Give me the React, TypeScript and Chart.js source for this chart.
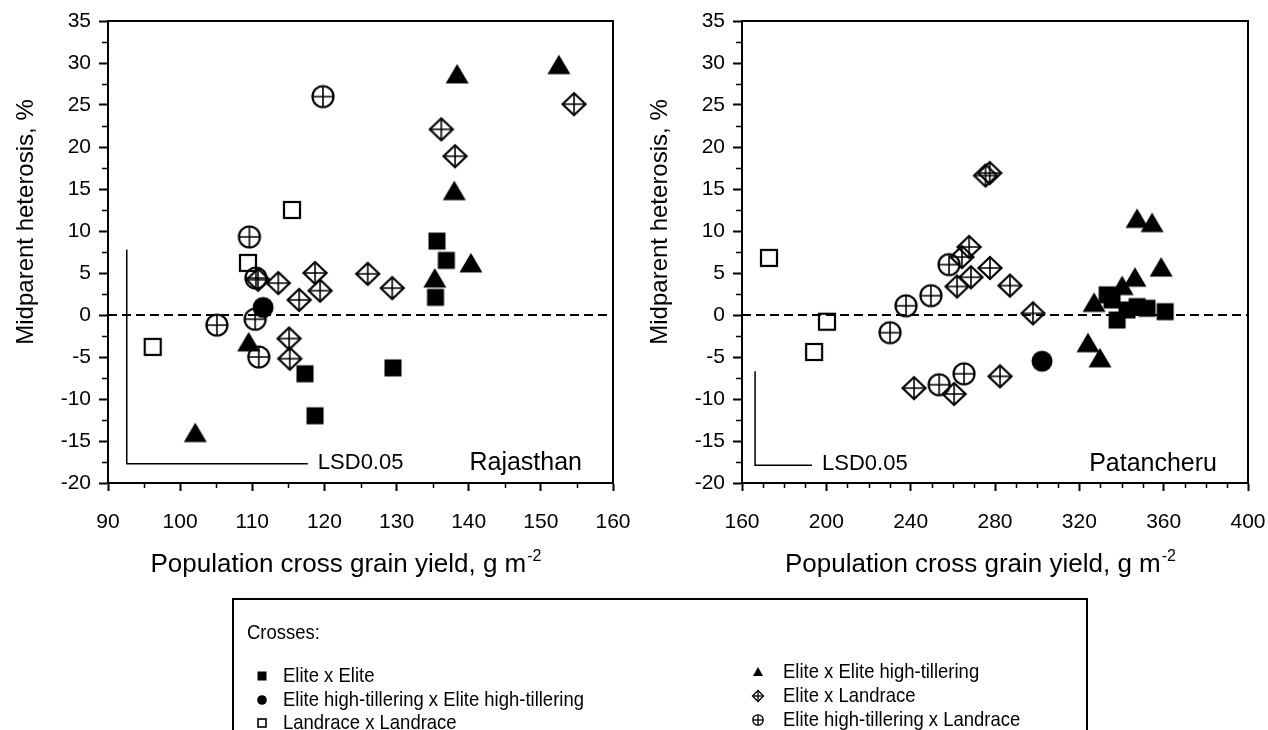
import React, { useEffect, useRef } from "react";
import { Chart, registerables } from "chart.js";

Chart.register(...registerables);

type Pt = [number, number];

// ---------------- Rajasthan (x: population cross grain yield, y: midparent heterosis %) ----------------
const rajEliteXElite: Pt[] = [[135.6, 8.8], [136.9, 6.5], [135.4, 2.1], [129.5, -6.3], [117.3, -7.0], [118.7, -12.0]];
const rajEliteXEliteHT: Pt[] = [[138.4, 28.7], [152.5, 29.8], [138.0, 14.8], [135.3, 4.4], [140.3, 6.2], [109.5, -3.2], [102.1, -14.0]];
const rajEliteHTxEliteHT: Pt[] = [[111.5, 0.9]];
const rajEliteXLandrace: Pt[] = [[154.6, 25.1], [136.2, 22.1], [138.1, 18.9], [126.0, 4.9], [129.4, 3.2], [113.6, 3.8], [118.7, 5.0], [119.4, 2.9], [116.5, 1.8], [110.8, 4.2], [115.1, -2.8], [115.2, -5.2]];
const rajLandraceXLandrace: Pt[] = [[115.5, 12.5], [109.4, 6.2], [96.2, -3.8]];
const rajEliteHTxLandrace: Pt[] = [[119.8, 26.0], [109.6, 9.3], [110.5, 4.4], [110.4, -0.5], [105.1, -1.2], [110.9, -5.0]];
const rajLsd: Pt[] = [[92.6, 7.8], [92.6, -17.7], [117.7, -17.7]];

// ---------------- Patancheru ----------------
const patEliteXElite: Pt[] = [[333.2, 2.4], [335.5, 1.8], [337.9, -0.6], [342.6, 0.6], [347.4, 1.0], [352.1, 0.8], [360.7, 0.4]];
const patEliteXEliteHT: Pt[] = [[347.4, 11.5], [354.5, 11.0], [358.8, 5.7], [346.4, 4.5], [340.3, 3.5], [327.0, 1.5], [324.1, -3.3], [329.8, -5.1]];
const patEliteHTxEliteHT: Pt[] = [[302.3, -5.5]];
const patEliteXLandrace: Pt[] = [[275.5, 16.6], [277.5, 16.9], [267.7, 8.1], [264.3, 6.9], [277.6, 5.6], [268.6, 4.5], [262.0, 3.4], [287.1, 3.5], [298.0, 0.2], [282.4, -7.3], [260.6, -9.4], [241.6, -8.7]];
const patLandraceXLandrace: Pt[] = [[172.8, 6.8], [200.3, -0.8], [194.2, -4.4]];
const patEliteHTxLandrace: Pt[] = [[230.2, -2.1], [237.8, 1.1], [249.6, 2.3], [258.2, 6.0], [265.3, -7.0], [253.5, -8.3]];
const patLsd: Pt[] = [[166.2, -6.7], [166.2, -17.9], [193.2, -17.9]];

// ---------------- Axes ----------------
const rajXTicks = [90, 100, 110, 120, 130, 140, 150, 160];
const patXTicks = [160, 200, 240, 280, 320, 360, 400];
const yTicks = [-20, -15, -10, -5, 0, 5, 10, 15, 20, 25, 30, 35];

const seriesKinds = ["fsq", "tri", "fci", "dia", "osq", "oci"];
const seriesLabels = [
  "Elite x Elite",
  "Elite x Elite high-tillering",
  "Elite high-tillering x Elite high-tillering",
  "Elite x Landrace",
  "Landrace x Landrace",
  "Elite high-tillering x Landrace",
];
const legendCol1 = [0, 2, 4];
const legendCol2 = [1, 3, 5];

const FONT = "'Liberation Sans', Arial, Helvetica, sans-serif";
const LEGEND_FONT = "'Liberation Sans', Arial, sans-serif";
const CW = 634;
const CH = 600;
const PLOT_TOP = 21;
const PLOT_BOTTOM = 483;
const PLOT_LEFT = 108;

interface Panel {
  name: string;
  site: string;
  xTicks: number[];
  xMinor: number;
  rightPad: number;
  series: Pt[][];
  lsd: Pt[];
}

const rajPanel: Panel = {
  name: "raj",
  site: "Rajasthan",
  xTicks: rajXTicks,
  xMinor: 5,
  rightPad: CW - 613,
  series: [rajEliteXElite, rajEliteXEliteHT, rajEliteHTxEliteHT, rajEliteXLandrace, rajLandraceXLandrace, rajEliteHTxLandrace],
  lsd: rajLsd,
};

const patPanel: Panel = {
  name: "pat",
  site: "Patancheru",
  xTicks: patXTicks,
  xMinor: 10,
  rightPad: CW - 614,
  series: [patEliteXElite, patEliteXEliteHT, patEliteHTxEliteHT, patEliteXLandrace, patLandraceXLandrace, patEliteHTxLandrace],
  lsd: patLsd,
};

function toXY(a: Pt[]) {
  return a.map(([x, y]) => ({ x, y }));
}

function makeMarker(kind: string): HTMLCanvasElement {
  const c = document.createElement("canvas");
  const S = 28;
  c.width = S;
  c.height = S;
  const ctx = c.getContext("2d")!;
  const m = S / 2;
  ctx.strokeStyle = "#000";
  ctx.fillStyle = "#000";
  ctx.lineWidth = 2.2;
  ctx.beginPath();
  if (kind === "fsq") {
    ctx.fillRect(m - 8.5, m - 8.5, 17, 17);
  } else if (kind === "osq") {
    ctx.strokeRect(m - 8, m - 8, 16, 16);
  } else if (kind === "tri") {
    ctx.moveTo(m, m - 10);
    ctx.lineTo(m + 11.5, m + 9.5);
    ctx.lineTo(m - 11.5, m + 9.5);
    ctx.closePath();
    ctx.fill();
  } else if (kind === "fci") {
    ctx.arc(m, m, 10.5, 0, Math.PI * 2);
    ctx.fill();
  } else if (kind === "oci") {
    ctx.arc(m, m, 10.5, 0, Math.PI * 2);
    ctx.stroke();
    ctx.lineWidth = 1.6;
    ctx.beginPath();
    ctx.moveTo(m - 10.5, m);
    ctx.lineTo(m + 10.5, m);
    ctx.moveTo(m, m - 10.5);
    ctx.lineTo(m, m + 10.5);
    ctx.stroke();
  } else if (kind === "dia") {
    const hw = 11.5;
    const hh = 11;
    ctx.moveTo(m, m - hh);
    ctx.lineTo(m + hw, m);
    ctx.lineTo(m, m + hh);
    ctx.lineTo(m - hw, m);
    ctx.closePath();
    ctx.stroke();
    ctx.lineWidth = 1.6;
    ctx.beginPath();
    ctx.moveTo(m - hw, m);
    ctx.lineTo(m + hw, m);
    ctx.moveTo(m, m - hh);
    ctx.lineTo(m, m + hh);
    ctx.stroke();
  }
  return c;
}

function makePlugin(p: Panel) {
  return {
    id: "frame_" + p.name,
    afterDraw(chart: any) {
      const { ctx, chartArea: a, scales } = chart;
      const xs = scales.x;
      const ys = scales.y;
      const xmin = p.xTicks[0];
      const xmax = p.xTicks[p.xTicks.length - 1];
      ctx.save();
      ctx.strokeStyle = "#000";
      ctx.fillStyle = "#000";
      // top and right frame
      ctx.lineWidth = 2;
      ctx.beginPath();
      ctx.moveTo(a.left - 1, a.top);
      ctx.lineTo(a.right, a.top);
      ctx.lineTo(a.right, a.bottom + 1);
      ctx.stroke();
      // minor ticks
      ctx.lineWidth = 1.5;
      ctx.beginPath();
      const nx = Math.round((xmax - xmin) / p.xMinor);
      for (let k = 1; k < nx; k++) {
        const v = xmin + k * p.xMinor;
        if (p.xTicks.indexOf(v) >= 0) continue;
        const px = Math.round(xs.getPixelForValue(v)) + 0.5;
        ctx.moveTo(px, a.bottom);
        ctx.lineTo(px, a.bottom + 5);
      }
      const ymin = yTicks[0];
      const ymax = yTicks[yTicks.length - 1];
      const ny = Math.round((ymax - ymin) / 2.5);
      for (let k = 1; k < ny; k++) {
        const v = ymin + k * 2.5;
        if (yTicks.indexOf(v) >= 0) continue;
        const py = Math.round(ys.getPixelForValue(v)) + 0.5;
        ctx.moveTo(a.left - 6, py);
        ctx.lineTo(a.left, py);
      }
      ctx.stroke();

      // y title
      ctx.save();
      ctx.translate(26, 222);
      ctx.rotate(-Math.PI / 2);
      ctx.font = `24px ${FONT}`;
      ctx.textAlign = "center";
      ctx.textBaseline = "middle";
      ctx.fillText("Midparent heterosis, %", 0, 0);
      ctx.restore();

      // x title with superscript
      const main = "Population cross grain yield, g m";
      const sup = "-2";
      ctx.font = `26px ${FONT}`;
      const w1 = ctx.measureText(main).width;
      ctx.font = `16px ${FONT}`;
      const w2 = ctx.measureText(sup).width;
      const cx = (a.left + a.right) / 2 - 15;
      const x0 = cx - (w1 + w2) / 2;
      const base = 572;
      ctx.textAlign = "left";
      ctx.textBaseline = "alphabetic";
      ctx.font = `26px ${FONT}`;
      ctx.fillText(main, x0, base);
      ctx.font = `16px ${FONT}`;
      ctx.fillText(sup, x0 + w1 + 1, base - 11);

      // LSD label and site name
      const lsdEnd = p.lsd[p.lsd.length - 1];
      const lx = xs.getPixelForValue(lsdEnd[0]);
      const ly = ys.getPixelForValue(lsdEnd[1]);
      ctx.textBaseline = "middle";
      ctx.font = `22px ${FONT}`;
      ctx.fillText("LSD0.05", lx + 10, ly - 1);
      ctx.font = `25px ${FONT}`;
      ctx.textAlign = "right";
      ctx.fillText(p.site, a.right - 31, ly - 1);
      ctx.restore();
    },
  };
}

function panelConfig(p: Panel, markers: Record<string, HTMLCanvasElement>): any {
  const xmin = p.xTicks[0];
  const xmax = p.xTicks[p.xTicks.length - 1];
  const datasets: any[] = p.series.map((s, i) => ({
    type: "scatter",
    label: seriesLabels[i],
    data: toXY(s),
    pointStyle: markers[seriesKinds[i]],
    pointRadius: 11,
    pointHoverRadius: 11,
    backgroundColor: "#000",
    borderColor: "#000",
  }));
  datasets.push({
    type: "line",
    label: "zero",
    data: [{ x: xmin, y: 0 }, { x: xmax, y: 0 }],
    borderColor: "#000",
    borderWidth: 2,
    borderDash: [9, 5],
    pointRadius: 0,
    fill: false,
    tension: 0,
  });
  datasets.push({
    type: "line",
    label: "LSD",
    data: toXY(p.lsd),
    borderColor: "#000",
    borderWidth: 1.5,
    pointRadius: 0,
    fill: false,
    tension: 0,
  });
  const tickFont = { family: FONT, size: 21 };
  return {
    type: "scatter",
    data: { datasets },
    options: {
      animation: false,
      responsive: false,
      devicePixelRatio: 1,
      events: [],
      layout: { padding: { left: 0, top: PLOT_TOP, right: p.rightPad, bottom: 0 } },
      plugins: { legend: { display: false }, tooltip: { enabled: false }, title: { display: false } },
      scales: {
        x: {
          type: "linear",
          min: xmin,
          max: xmax,
          afterBuildTicks: (s: any) => {
            s.ticks = p.xTicks.map((v) => ({ value: v }));
          },
          afterFit: (s: any) => {
            s.height = CH - PLOT_BOTTOM;
            s.paddingLeft = 0;
            s.paddingRight = 0;
          },
          ticks: { font: tickFont, color: "#000", padding: 19, maxRotation: 0, autoSkip: false },
          grid: { drawOnChartArea: false, drawTicks: true, tickLength: 8, tickWidth: 2, tickColor: "#000" },
          border: { display: true, color: "#000", width: 2 },
        },
        y: {
          type: "linear",
          min: yTicks[0],
          max: yTicks[yTicks.length - 1],
          afterBuildTicks: (s: any) => {
            s.ticks = yTicks.map((v) => ({ value: v }));
          },
          afterFit: (s: any) => {
            s.width = PLOT_LEFT;
            s.paddingTop = 0;
            s.paddingBottom = 0;
          },
          ticks: { font: tickFont, color: "#000", padding: 8, autoSkip: false },
          grid: { drawOnChartArea: false, drawTicks: true, tickLength: 9, tickWidth: 2, tickColor: "#000" },
          border: { display: true, color: "#000", width: 2 },
        },
      },
    },
    plugins: [makePlugin(p)],
  };
}

function LegendMark({ kind }: { kind: string }) {
  let el: any = null;
  if (kind === "fsq") el = <rect x={3.5} y={3.5} width={9} height={9} fill="#000" />;
  else if (kind === "osq") el = <rect x={4} y={4} width={8} height={8} fill="none" stroke="#000" strokeWidth={1.6} />;
  else if (kind === "tri") el = <polygon points="8,3 13,12 3,12" fill="#000" />;
  else if (kind === "fci") el = <circle cx={8} cy={8} r={4.8} fill="#000" />;
  else if (kind === "oci")
    el = (
      <g stroke="#000" strokeWidth={1.3} fill="none">
        <circle cx={8} cy={8} r={5.2} />
        <line x1={2.8} y1={8} x2={13.2} y2={8} />
        <line x1={8} y1={2.8} x2={8} y2={13.2} />
      </g>
    );
  else if (kind === "dia")
    el = (
      <g stroke="#000" strokeWidth={1.3} fill="none">
        <polygon points="8,2.5 13.5,8 8,13.5 2.5,8" />
        <line x1={2.5} y1={8} x2={13.5} y2={8} />
        <line x1={8} y1={2.5} x2={8} y2={13.5} />
      </g>
    );
  return (
    <svg width={16} height={16} viewBox="0 0 16 16" style={{ display: "block" }}>
      {el}
    </svg>
  );
}

const legendTextStyle: any = {
  position: "absolute",
  height: 24,
  lineHeight: "24px",
  fontFamily: LEGEND_FONT,
  fontSize: 21,
  whiteSpace: "nowrap",
  color: "#000",
  transform: "scaleX(0.88)",
  transformOrigin: "0 50%",
};

function LegendItem({ idx, mx, tx, cy }: { idx: number; mx: number; tx: number; cy: number }) {
  return (
    <>
      <div style={{ position: "absolute", left: mx - 8, top: cy - 8, width: 16, height: 16 }}>
        <LegendMark kind={seriesKinds[idx]} />
      </div>
      <div style={{ ...legendTextStyle, left: tx, top: cy - 13 }}>{seriesLabels[idx]}</div>
    </>
  );
}

export default function App() {
  const leftRef = useRef<HTMLCanvasElement>(null);
  const rightRef = useRef<HTMLCanvasElement>(null);

  useEffect(() => {
    const markers: Record<string, HTMLCanvasElement> = {};
    seriesKinds.forEach((k) => (markers[k] = makeMarker(k)));
    const c1 = new Chart(leftRef.current!, panelConfig(rajPanel, markers));
    const c2 = new Chart(rightRef.current!, panelConfig(patPanel, markers));
    return () => {
      c1.destroy();
      c2.destroy();
    };
  }, []);

  const col1Rows = [676, 700, 723];
  const col2Rows = [672, 696, 720];

  return (
    <div style={{ position: "absolute", left: 0, top: 0, width: 1268, height: 730, overflow: "hidden", background: "#fff" }}>
      <canvas ref={leftRef} width={CW} height={CH} style={{ position: "absolute", left: 0, top: 0, width: CW, height: CH }} />
      <canvas ref={rightRef} width={CW} height={CH} style={{ position: "absolute", left: CW, top: 0, width: CW, height: CH }} />
      <div
        style={{
          position: "absolute",
          left: 232,
          top: 598,
          width: 856,
          height: 200,
          border: "2px solid #000",
          boxSizing: "border-box",
        }}
      />
      <div style={{ ...legendTextStyle, left: 247, top: 633 - 13 }}>Crosses:</div>
      {legendCol1.map((idx, i) => (
        <LegendItem key={"a" + idx} idx={idx} mx={262} tx={283} cy={col1Rows[i]} />
      ))}
      {legendCol2.map((idx, i) => (
        <LegendItem key={"b" + idx} idx={idx} mx={758} tx={783} cy={col2Rows[i]} />
      ))}
    </div>
  );
}
